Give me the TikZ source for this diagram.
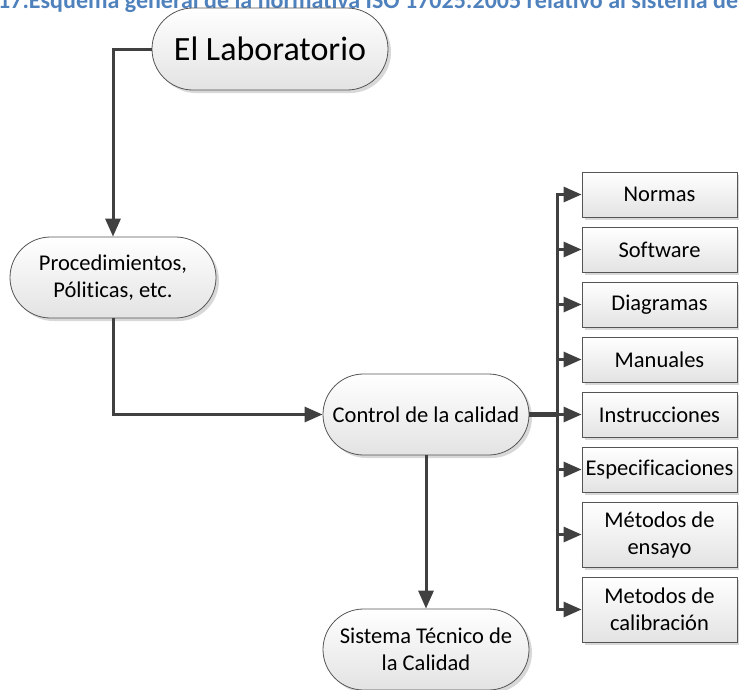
\documentclass[tikz,border=0pt]{standalone}
\usepackage{fontspec}
\setmainfont[Ligatures=NoCommon]{Carlito}
\usetikzlibrary{arrows.meta,shapes.misc,shadows}
\definecolor{linegray}{HTML}{404040}
\definecolor{edgegray}{HTML}{555555}
\definecolor{captionblue}{HTML}{4F81BD}
\tikzset{
  boxfont/.style={font=\fontsize{22.5}{27}\selectfont},
  softshadow/.style={drop shadow={shadow xshift=3pt, shadow yshift=-3pt, fill=black!22, opacity=0.7}},
  pill/.style={rounded rectangle, draw=edgegray, line width=0.8pt,
    top color=white, bottom color=black!11, softshadow,
    minimum width=206pt, minimum height=81pt, inner sep=0pt, align=center, boxfont},
  item/.style={rectangle, draw=edgegray, line width=0.8pt,
    top color=white, bottom color=black!11, softshadow,
    minimum width=155pt, minimum height=45pt, inner sep=0pt, align=center, boxfont},
  tallitem/.style={item, minimum height=65pt},
  conn/.style={draw=linegray, line width=3pt, -{Triangle[length=18pt,width=15pt]}},
  trunkline/.style={draw=linegray, line width=4.5pt}
}
\begin{document}
\begin{tikzpicture}[x=1pt,y=-1pt]
\useasboundingbox (0,0) rectangle (739,689);
\clip (0,0) rectangle (739,689);

% caption line, cut by the page edge
\node[anchor=base west, inner sep=0pt, text=captionblue,
      font=\bfseries\fontsize{24}{29}\selectfont] (caption) at (-2,8)
  {17.Esquema general de la normativa ISO 17025:2005 relativo al sistema de calidad};

% main flow
\node[pill, minimum width=236pt, minimum height=82pt,
      font=\fontsize{34}{40}\selectfont] (lab) at (270,49) {El Laboratorio};
\node[pill] (proc) at (113,277.5) {Procedimientos,\\Póliticas, etc.};
\node[pill] (ctrl) at (426,414.5) {Control de la calidad};
\node[pill] (sys) at (426,649.5) {Sistema Técnico de\\la Calidad};

% documents column
\node[item] (b1) at (659.5,194.5) {Normas};
\node[item] (b2) at (659.5,249.5) {Software};
\node[item] (b3) at (659.5,304.5) {Diagramas};
\node[item] (b4) at (659.5,359.5) {Manuales};
\node[item] (b5) at (659.5,414.5) {Instrucciones};
\node[item] (b6) at (659.5,469.5) {Especificaciones};
\node[tallitem] (b7) at (659.5,534.5) {Métodos de\\ensayo};
\node[tallitem] (b8) at (659.5,609.5) {Metodos de\\calibración};

% connectors
\draw[conn] (lab.west) -| (proc.north);
\draw[conn] (proc.south) |- (ctrl.west);
\draw[conn] (ctrl.south) -- (sys.north);

\coordinate (hub) at (557,414.5);
\draw[trunkline] (ctrl.east) -- (hub);
\foreach \b in {b1,b2,b3,b4,b5,b6,b7,b8}
  \draw[conn] (hub) |- (\b.west);
\end{tikzpicture}
\end{document}
